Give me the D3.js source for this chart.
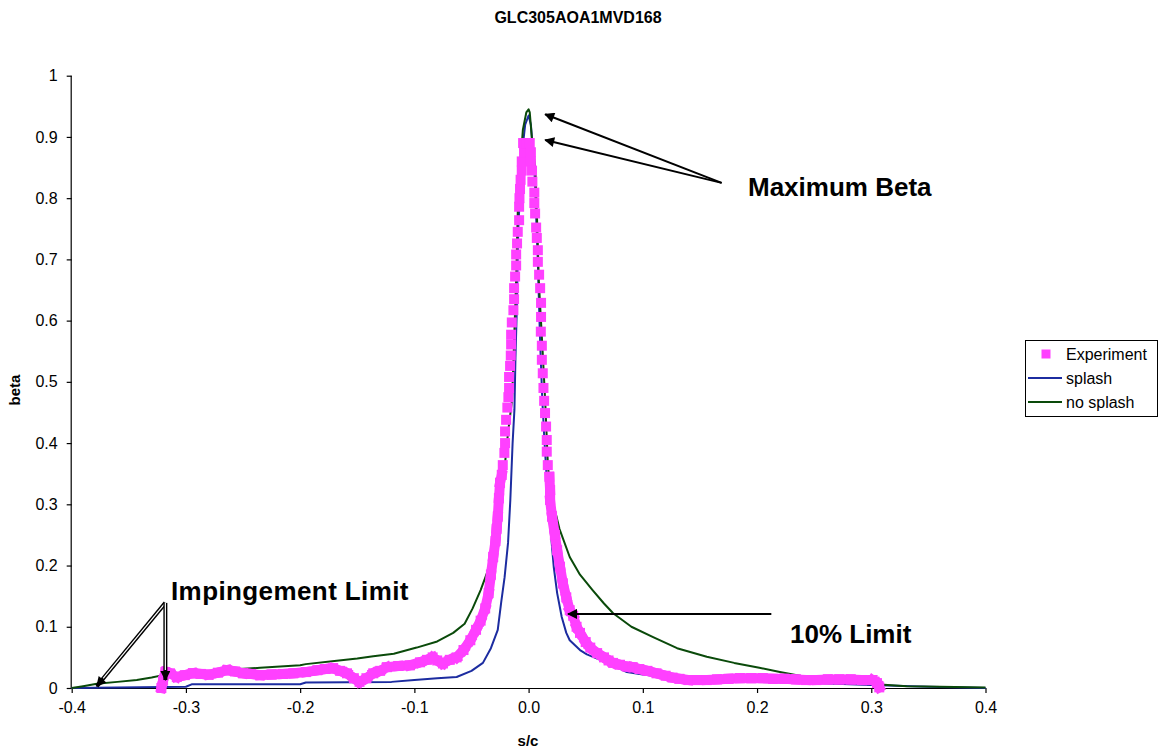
<!DOCTYPE html>
<html>
<head>
<meta charset="utf-8">
<script src="https://cdn.jsdelivr.net/npm/d3@7"></script>
<style>
  html, body { margin: 0; padding: 0; background: #fff; }
  svg { display: block; font-family: "Liberation Sans", Arial, sans-serif; }
</style>
</head>
<body>
<svg id="chart" width="1161" height="755"></svg>
<script>
// ---------------- data ----------------
const chartTitle = "GLC305AOA1MVD168";
const xTicks = [-0.4, -0.3, -0.2, -0.1, 0.0, 0.1, 0.2, 0.3, 0.4];
const xTickLabels = ["-0.4", "-0.3", "-0.2", "-0.1", "0.0", "0.1", "0.2", "0.3", "0.4"];
const yTicks = [0, 0.1, 0.2, 0.3, 0.4, 0.5, 0.6, 0.7, 0.8, 0.9, 1];
const yTickLabels = ["0", "0.1", "0.2", "0.3", "0.4", "0.5", "0.6", "0.7", "0.8", "0.9", "1"];
const seriesNames = ["Experiment", "splash", "no splash"];

// Experiment (s/c, beta)
const experiment = [
  [-0.3215, 0.0], [-0.320, 0.012], [-0.318, 0.026], [-0.314, 0.024], [-0.308, 0.018],
  [-0.301, 0.021], [-0.294, 0.024], [-0.287, 0.023], [-0.280, 0.022], [-0.272, 0.025],
  [-0.264, 0.029], [-0.257, 0.027], [-0.250, 0.024], [-0.243, 0.023], [-0.235, 0.021],
  [-0.225, 0.022], [-0.215, 0.023], [-0.206, 0.024], [-0.195, 0.026], [-0.185, 0.029],
  [-0.178, 0.031], [-0.171, 0.032], [-0.165, 0.028], [-0.159, 0.024], [-0.153, 0.016],
  [-0.148, 0.010], [-0.142, 0.016], [-0.136, 0.024], [-0.130, 0.028], [-0.124, 0.034],
  [-0.114, 0.036], [-0.104, 0.037], [-0.095, 0.042], [-0.089, 0.046], [-0.084, 0.050],
  [-0.080, 0.045], [-0.075, 0.040], [-0.069, 0.046], [-0.063, 0.050], [-0.057, 0.062],
  [-0.051, 0.078], [-0.046, 0.095], [-0.042, 0.110], [-0.038, 0.130], [-0.035, 0.155],
  [-0.033, 0.185], [-0.031, 0.214], [-0.029, 0.240], [-0.028, 0.260], [-0.027, 0.280],
  [-0.026, 0.310], [-0.025, 0.335], [-0.0235, 0.348], [-0.0226, 0.364], [-0.0212, 0.384],
  [-0.0206, 0.400], [-0.0206, 0.419], [-0.0197, 0.438], [-0.0186, 0.458], [-0.0177, 0.475],
  [-0.0171, 0.490], [-0.0171, 0.508], [-0.0162, 0.526], [-0.0156, 0.543], [-0.0153, 0.561],
  [-0.0153, 0.577], [-0.0147, 0.597], [-0.0133, 0.617], [-0.0127, 0.635], [-0.0127, 0.653],
  [-0.0118, 0.672], [-0.0109, 0.690], [-0.0109, 0.708], [-0.0101, 0.726], [-0.0095, 0.745],
  [-0.0083, 0.764], [-0.0083, 0.786], [-0.0080, 0.800], [-0.0075, 0.815], [-0.0070, 0.830],
  [-0.0060, 0.845], [-0.0060, 0.860], [-0.0040, 0.875], [-0.0048, 0.890], [-0.0015, 0.890],
  [0.0010, 0.890], [0.0020, 0.875], [0.0020, 0.860], [0.0030, 0.845], [0.0033, 0.827],
  [0.0050, 0.809], [0.0050, 0.792], [0.0057, 0.775], [0.0066, 0.752], [0.0072, 0.735],
  [0.0081, 0.715], [0.0081, 0.696], [0.0092, 0.675], [0.0101, 0.653], [0.0109, 0.629],
  [0.0109, 0.606], [0.0107, 0.582], [0.0116, 0.559], [0.0116, 0.536], [0.0124, 0.514],
  [0.0130, 0.490], [0.0136, 0.469], [0.0144, 0.449], [0.0153, 0.427], [0.0159, 0.405],
  [0.0159, 0.386], [0.0168, 0.364], [0.0182, 0.345], [0.0188, 0.323], [0.0188, 0.307],
  [0.0205, 0.280], [0.0230, 0.250], [0.0250, 0.225], [0.0275, 0.198], [0.0300, 0.171],
  [0.0330, 0.148], [0.0360, 0.127], [0.0390, 0.118], [0.0420, 0.100], [0.0450, 0.090],
  [0.0500, 0.075], [0.0540, 0.066], [0.0600, 0.057], [0.0660, 0.050], [0.0700, 0.045],
  [0.0740, 0.041], [0.0800, 0.038], [0.0860, 0.035], [0.0910, 0.034], [0.0970, 0.031],
  [0.1040, 0.028], [0.1120, 0.024], [0.1200, 0.020], [0.1260, 0.017], [0.1320, 0.015],
  [0.1400, 0.013], [0.1480, 0.013], [0.1560, 0.013], [0.1650, 0.014], [0.1750, 0.015],
  [0.1850, 0.016], [0.1950, 0.016], [0.2050, 0.016], [0.2140, 0.015], [0.2240, 0.015],
  [0.2340, 0.014], [0.2430, 0.013], [0.2520, 0.013], [0.2620, 0.014], [0.2720, 0.014],
  [0.2820, 0.014], [0.2920, 0.013], [0.3010, 0.013], [0.3050, 0.008], [0.3070, 0.001]
];

// splash (s/c, beta)
const splash = [
  [-0.400, 0.000], [-0.300, 0.002], [-0.295, 0.006], [-0.200, 0.006], [-0.195, 0.009],
  [-0.120, 0.010], [-0.100, 0.013], [-0.080, 0.016], [-0.063, 0.018], [-0.050, 0.028],
  [-0.040, 0.041], [-0.033, 0.065], [-0.027, 0.095], [-0.024, 0.140], [-0.021, 0.181],
  [-0.018, 0.237], [-0.016, 0.307], [-0.014, 0.400], [-0.0124, 0.455], [-0.0115, 0.540],
  [-0.0103, 0.620], [-0.009, 0.750], [-0.006, 0.870], [-0.003, 0.920], [0.000, 0.935],
  [0.002, 0.920], [0.005, 0.850], [0.008, 0.700], [0.010, 0.570], [0.012, 0.470],
  [0.014, 0.400], [0.017, 0.307], [0.022, 0.198], [0.025, 0.155], [0.029, 0.116],
  [0.033, 0.090], [0.036, 0.078], [0.045, 0.062], [0.051, 0.055], [0.069, 0.041],
  [0.086, 0.026], [0.100, 0.022], [0.127, 0.016], [0.150, 0.012], [0.200, 0.010],
  [0.250, 0.008], [0.300, 0.005], [0.350, 0.002], [0.400, 0.000]
];

// no splash (s/c, beta)
const noSplash = [
  [-0.400, 0.000], [-0.390, 0.003], [-0.378, 0.007], [-0.360, 0.010], [-0.343, 0.013],
  [-0.330, 0.017], [-0.320, 0.021], [-0.300, 0.025], [-0.280, 0.027], [-0.253, 0.031],
  [-0.235, 0.033], [-0.200, 0.037], [-0.195, 0.039], [-0.170, 0.044], [-0.150, 0.048],
  [-0.136, 0.052], [-0.118, 0.056], [-0.098, 0.066], [-0.080, 0.076], [-0.066, 0.090],
  [-0.056, 0.105], [-0.049, 0.130], [-0.042, 0.160], [-0.036, 0.190], [-0.032, 0.220],
  [-0.028, 0.253], [-0.025, 0.290], [-0.022, 0.335], [-0.020, 0.380], [-0.018, 0.417],
  [-0.0145, 0.470], [-0.013, 0.550], [-0.011, 0.662], [-0.009, 0.814], [-0.005, 0.912],
  [-0.002, 0.940], [0.000, 0.945], [0.001, 0.940], [0.003, 0.895], [0.006, 0.846],
  [0.0075, 0.760], [0.009, 0.662], [0.012, 0.560], [0.0145, 0.470], [0.017, 0.360],
  [0.0205, 0.310], [0.027, 0.260], [0.036, 0.214], [0.045, 0.185], [0.056, 0.160],
  [0.066, 0.138], [0.074, 0.122], [0.090, 0.100], [0.109, 0.083], [0.130, 0.065],
  [0.156, 0.051], [0.180, 0.041], [0.202, 0.033], [0.220, 0.026], [0.243, 0.018],
  [0.270, 0.012], [0.301, 0.0065], [0.331, 0.003], [0.360, 0.002], [0.400, 0.001]
];

// annotations: text and the data points their arrows point to
const annMaxBeta = { text: "Maximum Beta", tail: [0.169, 0.825], tips: [[0.0145, 0.937], [0.0145, 0.895]] };
const annImpinge = { text: "Impingement Limit", tail: [-0.318, 0.139], tips: [[-0.378, 0.003], [-0.318, 0.013]] };
const annTenPct = { text: "10% Limit", tail: [0.2125, 0.121], tips: [[0.0345, 0.121]] };

// ---------------- drawing ----------------
const colors = { exp: "#ff40ff", splash: "#1c2ca0", noSplash: "#0a4a0a" };
const svg = d3.select("#chart");
const W = 1161, H = 755;
const plot = { left: 71.7, right: 985.5, top: 75.7, bottom: 688 };

const x = d3.scaleLinear().domain([-0.4, 0.4]).range([plot.left, plot.right]);
const y = d3.scaleLinear().domain([0, 1]).range([plot.bottom, plot.top]);

svg.append("rect").attr("width", W).attr("height", H).attr("fill", "#fff");

// title
svg.append("text").attr("x", 578).attr("y", 23).attr("text-anchor", "middle")
  .attr("font-size", 16).attr("font-weight", "bold").text(chartTitle);

// axes
const xAxis = d3.axisBottom(x).tickValues(xTicks).tickSize(5).tickPadding(9)
  .tickFormat((d, i) => xTickLabels[i]);
const gx = svg.append("g").attr("transform", `translate(0,${plot.bottom})`).call(xAxis);
const yAxis = d3.axisLeft(y).tickValues(yTicks).tickSize(5).tickPadding(9)
  .tickFormat((d, i) => yTickLabels[i]);
const gy = svg.append("g").attr("transform", `translate(${plot.left},0)`).call(yAxis);
[gx, gy].forEach(g => {
  g.select(".domain").attr("stroke", "#000").attr("stroke-width", 1.2);
  g.selectAll(".tick line").attr("stroke", "#000").attr("stroke-width", 1.2);
  g.selectAll(".tick text").attr("font-size", 16).attr("fill", "#000")
    .attr("font-family", "'Liberation Sans', Arial, sans-serif");
});
gx.select(".domain").attr("d", `M${plot.left},0.5H${plot.right}`);
gy.select(".domain").attr("d", `M-0.5,${plot.top}V${plot.bottom}`);

// axis titles
svg.append("text").attr("x", 528).attr("y", 746).attr("text-anchor", "middle")
  .attr("font-size", 15).attr("font-weight", "bold").text("s/c");
svg.append("text").attr("transform", "translate(20,390) rotate(-90)")
  .attr("text-anchor", "middle").attr("font-size", 15).attr("font-weight", "bold").text("beta");

// lines
const line = d3.line().x(d => x(d[0])).y(d => y(d[1]));
svg.append("path").datum(splash).attr("d", line).attr("fill", "none")
  .attr("stroke", colors.splash).attr("stroke-width", 2).attr("stroke-linejoin", "round");
svg.append("path").datum(noSplash).attr("d", line).attr("fill", "none")
  .attr("stroke", colors.noSplash).attr("stroke-width", 2).attr("stroke-linejoin", "round");

// experiment: dense measurements form a continuous band; sparse ones show as separate squares
const ms = 10;
const band = [];
for (let i = 1; i < experiment.length; i++) {
  const a = experiment[i - 1], b = experiment[i];
  if (a[1] < 0.35 && b[1] < 0.35) band.push([a, b]);
}
svg.append("g").selectAll("line").data(band).join("line")
  .attr("x1", d => x(d[0][0])).attr("y1", d => y(d[0][1]))
  .attr("x2", d => x(d[1][0])).attr("y2", d => y(d[1][1]))
  .attr("stroke", colors.exp).attr("stroke-width", ms).attr("stroke-linecap", "square");
svg.append("g").selectAll("rect").data(experiment).join("rect")
  .attr("x", d => x(d[0]) - ms / 2).attr("y", d => y(d[1]) - ms / 2)
  .attr("width", ms).attr("height", ms).attr("fill", colors.exp);

// arrows
const defs = svg.append("defs");
defs.append("marker").attr("id", "ah").attr("viewBox", "0 0 10 10").attr("refX", 9).attr("refY", 5)
  .attr("markerWidth", 14).attr("markerHeight", 10).attr("markerUnits", "userSpaceOnUse")
  .attr("orient", "auto")
  .append("path").attr("d", "M0,0 L10,5 L0,10 z").attr("fill", "#000");

function arrow(tail, tip, dbl) {
  const x1 = x(tail[0]), y1 = y(tail[1]), x2 = x(tip[0]), y2 = y(tip[1]);
  if (dbl) {
    svg.append("line").attr("x1", x1).attr("y1", y1).attr("x2", x2).attr("y2", y2)
      .attr("stroke", "#000").attr("stroke-width", 4).attr("marker-end", "url(#ah)");
    const len = Math.hypot(x2 - x1, y2 - y1);
    const f = (len - 10) / len;
    svg.append("line").attr("x1", x1).attr("y1", y1)
      .attr("x2", x1 + (x2 - x1) * f).attr("y2", y1 + (y2 - y1) * f)
      .attr("stroke", "#fff").attr("stroke-width", 1.2);
  } else {
    svg.append("line").attr("x1", x1).attr("y1", y1).attr("x2", x2).attr("y2", y2)
      .attr("stroke", "#000").attr("stroke-width", 2).attr("marker-end", "url(#ah)");
  }
}
annMaxBeta.tips.forEach(t => arrow(annMaxBeta.tail, t, false));
annImpinge.tips.forEach(t => arrow(annImpinge.tail, t, true));
annTenPct.tips.forEach(t => arrow(annTenPct.tail, t, false));

const annFont = 26;
svg.append("text").attr("x", 748).attr("y", 196).attr("font-size", annFont)
  .attr("font-weight", "bold").text(annMaxBeta.text);
svg.append("text").attr("x", 171).attr("y", 600).attr("font-size", annFont)
  .attr("font-weight", "bold").attr("letter-spacing", 0.4).text(annImpinge.text);
svg.append("text").attr("x", 790).attr("y", 643).attr("font-size", annFont)
  .attr("font-weight", "bold").text(annTenPct.text);

// legend
const lg = svg.append("g");
lg.append("rect").attr("x", 1025.5).attr("y", 340.5).attr("width", 132).attr("height", 76)
  .attr("fill", "#fff").attr("stroke", "#000").attr("stroke-width", 1);
const rows = [354, 378, 402];
lg.append("rect").attr("x", 1046 - 4.5).attr("y", rows[0] - 4.5).attr("width", 9).attr("height", 9)
  .attr("fill", colors.exp);
lg.append("line").attr("x1", 1028).attr("x2", 1062).attr("y1", rows[1]).attr("y2", rows[1])
  .attr("stroke", colors.splash).attr("stroke-width", 2);
lg.append("line").attr("x1", 1028).attr("x2", 1062).attr("y1", rows[2]).attr("y2", rows[2])
  .attr("stroke", colors.noSplash).attr("stroke-width", 2);
seriesNames.forEach((n, i) => {
  lg.append("text").attr("x", 1066).attr("y", rows[i] + 5.5).attr("font-size", 16).text(n);
});
</script>
</body>
</html>
